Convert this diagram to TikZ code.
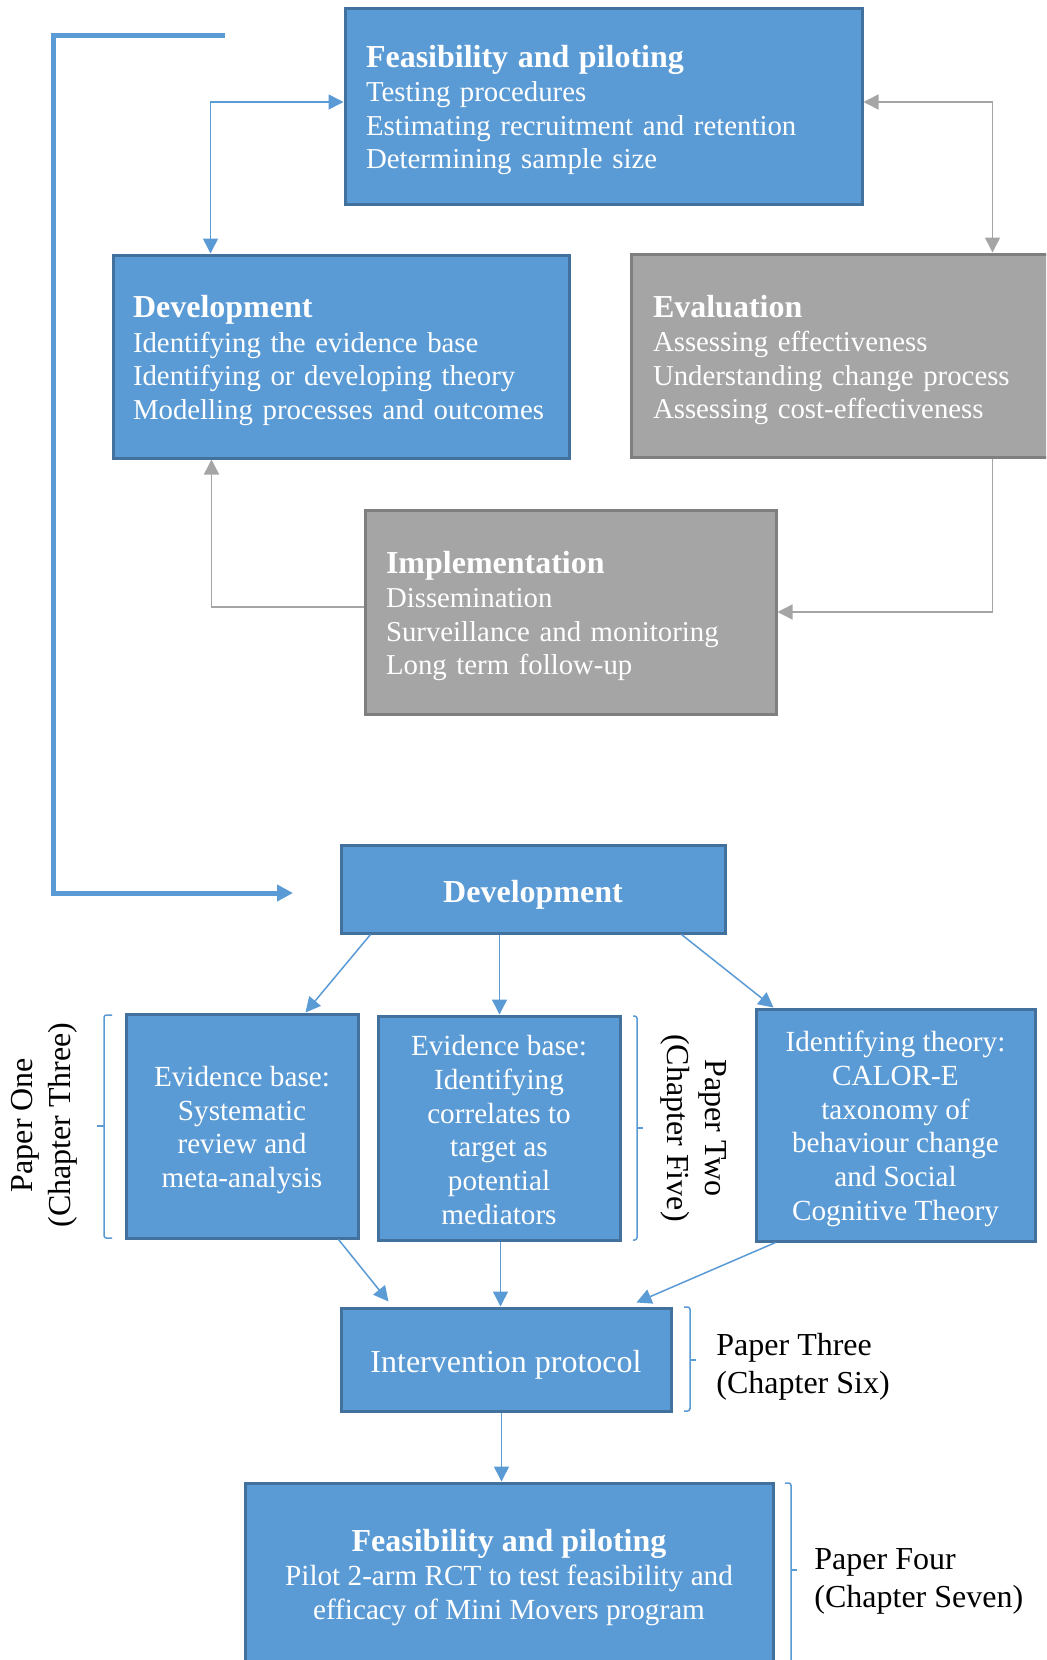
\documentclass[tikz,border=0pt]{standalone}
\usepackage{fontspec}
\setmainfont{Liberation Serif}
\usetikzlibrary{arrows.meta,calc}

\definecolor{boxblue}{HTML}{5B9BD5}
\definecolor{boxblueline}{HTML}{41719C}
\definecolor{boxgray}{HTML}{A5A5A5}
\definecolor{boxgrayline}{HTML}{7F7F7F}
\definecolor{linkgray}{HTML}{A5A5A5}

\newcommand\bdfont{\fontsize{14.4}{16.75}\selectfont}
\newcommand\ctrfont{\fontsize{14.6}{16.85}\selectfont}
\newcommand\hdfont{\fontsize{16}{18}\selectfont\bfseries}
\newcommand\lblfont{\fontsize{16}{19}\selectfont}
% invisible strut that lowers a text block inside its box
\newcommand\lowerby[1]{\rule{0pt}{#1}}

\begin{document}
\begin{tikzpicture}[x=0.5pt,y=-0.5pt,
  >={Triangle[length=7.5pt,width=7.5pt]},
  bluebox/.style={draw=boxblueline,fill=boxblue,line width=1.5pt,text=white,inner sep=0pt},
  graybox/.style={draw=boxgrayline,fill=boxgray,line width=1.5pt,text=white,inner sep=0pt},
  listbox/.style={align=left,inner xsep=10.5pt,inner ysep=0pt,font=\bdfont},
  ctrbox/.style={align=center,font=\ctrfont},
  bluelink/.style={draw=boxblue,line width=0.75pt},
  graylink/.style={draw=linkgray,line width=0.75pt},
  looplink/.style={draw=boxblue,line width=2.5pt,-{Triangle[length=8pt,width=8pt]}},
  brace/.style={draw=boxblue,line width=0.75pt,rounded corners=1.2pt},
  lbl/.style={font=\lblfont,inner sep=0pt}
]
\useasboundingbox (0,0) rectangle (1046,1660);
\clip (0,0) rectangle (1046,1660);
\fill[white] (0,0) rectangle (1046,1660);

% ---------- framework cycle ----------
\node[bluebox,listbox,text width=237.5pt,minimum height=98pt] (fp) at (603.5,106)
  {\lowerby{15pt}{\hdfont Feasibility and piloting}\\[0.5pt]
   Testing procedures\\
   Estimating recruitment and retention\\
   Determining sample size};

\node[bluebox,listbox,inner xsep=10pt,text width=208pt,minimum height=101.5pt] (dev) at (341,356.5)
  {\lowerby{15pt}{\hdfont Development}\\[0.5pt]
   Identifying the evidence base\\
   Identifying or developing theory\\
   \mbox{Modelling processes and outcomes}};

\node[graybox,listbox,inner xsep=11pt,text width=212.5pt,minimum height=101.5pt] (eval) at (865.5,355.5)
  {\lowerby{15.5pt}{\hdfont Evaluation}\\[0.5pt]
   Assessing effectiveness\\
   Understanding change process\\
   Assessing cost-effectiveness};

\node[graybox,listbox,text width=184.5pt,minimum height=102pt] (impl) at (570.5,612)
  {\lowerby{15pt}{\hdfont Implementation}\\[0.5pt]
   Dissemination\\
   Surveillance and monitoring\\
   Long term follow-up};

\draw[bluelink,<->] ([yshift=2pt]fp.west) -| ($(dev.north west)+(99,0)$);
\draw[graylink,<->] ([yshift=2pt]fp.east) -| ($(eval.north west)+(363,0)$);
\draw[graylink,->] ($(eval.south west)+(363,0)$) |- (impl.east);
\draw[graylink,->] ([yshift=2.5pt]impl.west) -| ($(dev.south west)+(100,0)$);

% ---------- link into the thesis plan ----------
\coordinate (loopstart) at (225,35);
\coordinate (looptip) at (293,893);
\draw[looplink] (loopstart) -- ++(-172,0) |- (looptip);

% ---------- thesis plan ----------
\node[bluebox,minimum width=192pt,minimum height=44pt,font=\hdfont] (dev2) at (533,889)
  {\lowerby{17.2pt}Development};

\node[bluebox,ctrbox,minimum width=116pt,minimum height=112pt] (ev1) at (242,1126)
  {\lowerby{14pt}Evidence base:\\ Systematic\\ review and\\ meta-analysis};
\node[bluebox,ctrbox,minimum width=121pt,minimum height=112pt] (ev2) at (499,1128)
  {\lowerby{12pt}Evidence base:\\ Identifying\\ correlates to\\ target as\\ potential\\ mediators};
\node[bluebox,ctrbox,minimum width=139.5pt,minimum height=116pt] (th) at (895.5,1125)
  {\lowerby{14pt}Identifying theory:\\ CALOR-E\\ taxonomy of\\ behaviour change\\ and Social\\ Cognitive Theory};

\node[bluebox,minimum width=165pt,minimum height=51.5pt,font=\lblfont] (ip) at (506,1359.5)
  {\lowerby{16.2pt}Intervention protocol};

\node[bluebox,align=center,font=\fontsize{14.6}{17}\selectfont,minimum width=264pt,minimum height=92.5pt] (pilot) at (509,1575.5)
  {\lowerby{13pt}{\hdfont Feasibility and piloting}\\
   Pilot 2-arm RCT to test feasibility and\\
   efficacy of Mini Movers program};

% attachment points of the vertical links
\coordinate (ev2in)  at ($(ev2.north west)+(123,0)$);
\coordinate (ev2out) at ($(ev2.south west)+(124,0)$);
\coordinate (ipout)  at ($(ip.south west)+(162,0)$);

\draw[bluelink,->] ($(dev2.south west)+(31,0)$) -- ($(ev1.north west)+(181,0)$);
\draw[bluelink,->] (ev2in |- dev2.south) -- (ev2in);
\draw[bluelink,->] ($(dev2.south west)+(342,0)$) -- ($(th.north west)+(19,0)$);

\draw[bluelink,->] ($(ev1.south west)+(214,0)$) -- ($(ip.north west)+(49,-5)$);
\draw[bluelink,->] (ev2out) -- (ev2out |- ip.north);
\draw[bluelink,->] ($(th.south west)+(21,0)$) -- ($(ip.north east)+(-36,-4)$);
\draw[bluelink,->] (ipout) -- (ipout |- pilot.north);

% ---------- paper brackets and labels ----------
\draw[brace] (112,1015) -- (104,1015) -- (104,1238) -- (112,1238);
\draw[brace] (104,1126) -- (97,1126);
\node[lbl,align=center,rotate=90] (p1) at (44,1125) {Paper One\\(Chapter Three)};

\draw[brace] (633,1016) -- (637,1016) -- (637,1240) -- (633,1240);
\draw[brace] (637,1128) -- (643,1128);
\node[lbl,align=center,rotate=-90] (p2) at (694,1128) {Paper Two\\(Chapter Five)};

\draw[brace] (684,1307) -- (690,1307) -- (690,1411) -- (684,1411);
\draw[brace] (690,1360) -- (696,1360);
\node[lbl,align=left,anchor=west] (p3) at (716,1367) {Paper Three\\(Chapter Six)};

\draw[brace] (785,1483) -- (791,1483) -- (791,1668) -- (785,1668);
\draw[brace] (791,1570) -- (797,1570);
\node[lbl,align=left,anchor=west] (p4) at (814,1581.5) {Paper Four\\(Chapter Seven)};
\end{tikzpicture}
\end{document}
